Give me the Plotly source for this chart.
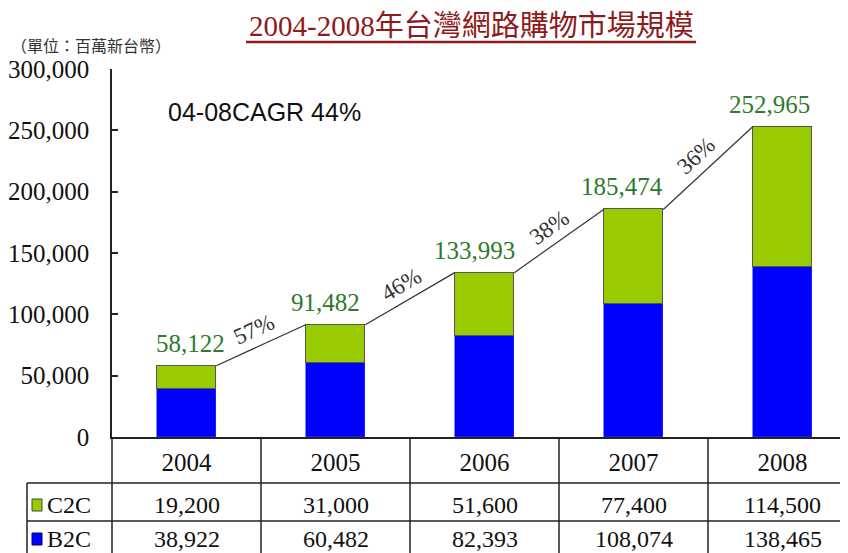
import math
import plotly.graph_objects as go

# ---------------- data ----------------
years = ["2004", "2005", "2006", "2007", "2008"]
c2c = [19200, 31000, 51600, 77400, 114500]
b2c = [38922, 60482, 82393, 108074, 138465]
growth_labels = ["57%", "46%", "38%", "36%"]
cagr_label = "04-08CAGR 44%"
title_text = "2004-2008年台灣網路購物市場規模"
unit_text = "（單位：百萬新台幣）"
y_ticks = [0, 50000, 100000, 150000, 200000, 250000, 300000]
totals = [b + c for b, c in zip(b2c, c2c)]

# ---------------- layout constants ----------------
OFF = 8  # page body margin of the html output
W, H = 848 - OFF, 553 - OFF
ML, MT = 112 - OFF, 69 - OFF
PH = 368
MB = H - MT - PH
MR = 0
PW = W - ML - MR
CAT_PX = 149.0
XR = [-0.5, -0.5 + PW / CAT_PX]
YR = [0, 300000]
BAR_W = 0.4

SERIF = "Liberation Serif, Times New Roman, serif"
SANS = "Liberation Sans, Arial, sans-serif"
CJK = "Liberation Serif, Noto Sans CJK TC, serif"
GREEN = "#99CC00"
BLUE = "#0000FF"
LABEL_GREEN = "#2E7A2E"
LINE = "#222222"
TITLE_RED = "#8E1B1B"


def px_x(px):
    """reference-image pixel x -> paper x"""
    return (px - OFF - ML) / PW


def px_y(py):
    """reference-image pixel y -> paper y"""
    return (MT + PH - (py - OFF)) / PH


x_idx = list(range(len(years)))

fig = go.Figure()
fig.add_trace(go.Bar(x=x_idx, y=b2c, name="B2C", width=BAR_W,
                     marker=dict(color=BLUE, line=dict(width=0.6, color="#3030ff"))))
fig.add_trace(go.Bar(x=x_idx, y=c2c, name="C2C", width=BAR_W,
                     marker=dict(color=GREEN, line=dict(width=1, color="#555555"))))

# growth connector lines (bar top-right corner to next bar top-left corner)
lx, ly = [], []
for i in range(len(totals) - 1):
    lx += [i + BAR_W / 2, i + 1 - BAR_W / 2, None]
    ly += [totals[i], totals[i + 1], None]
fig.add_trace(go.Scatter(x=lx, y=ly, mode="lines", line=dict(color="#333333", width=1.2),
                         hoverinfo="skip"))

annotations = []
shapes = []

# value labels above bars
LABEL_DX = [4, -10, -10, -12, -13]
for i, t in enumerate(totals):
    annotations.append(dict(x=i, y=t, xref="x", yref="y", text=f"{t:,}", showarrow=False,
                            xanchor="center", yanchor="bottom", xshift=LABEL_DX[i], yshift=7,
                            font=dict(family=SERIF, size=25, color=LABEL_GREEN)))

# growth labels along the connector lines
px_per_x = PW / (XR[1] - XR[0])
px_per_y = PH / (YR[1] - YR[0])
for i, g in enumerate(growth_labels):
    dx = (1 - BAR_W) * px_per_x
    dy = (totals[i + 1] - totals[i]) * px_per_y
    ang = math.degrees(math.atan2(dy, dx))
    L = math.hypot(dx, dy)
    nx, ny = -dy / L, dx / L  # upward normal (plotly coords: y up)
    d = 17
    annotations.append(dict(x=i + 0.5, y=(totals[i] + totals[i + 1]) / 2, xref="x", yref="y",
                            text=g, showarrow=False, textangle=-ang,
                            xshift=nx * d, yshift=ny * d,
                            font=dict(family=SERIF, size=23, color="#333333")))

# title, unit, CAGR
annotations.append(dict(x=px_x(471), y=px_y(26), xref="paper", yref="paper", text=title_text,
                        showarrow=False, xanchor="center", yanchor="middle",
                        font=dict(family=CJK, size=29, color=TITLE_RED)))
shapes.append(dict(type="line", xref="paper", yref="paper", x0=px_x(246), x1=px_x(696),
                   y0=px_y(42), y1=px_y(42), line=dict(color=TITLE_RED, width=2.5)))
annotations.append(dict(x=px_x(9), y=px_y(45), xref="paper", yref="paper", text=unit_text,
                        showarrow=False, xanchor="left", yanchor="middle",
                        font=dict(family="Noto Sans CJK TC", size=16, color="#333333")))
annotations.append(dict(x=px_x(264), y=px_y(112), xref="paper", yref="paper", text=cagr_label,
                        showarrow=False, xanchor="center", yanchor="middle",
                        font=dict(family=SANS, size=25, color="#111111")))

# ---------------- data table ----------------
ROW1_Y, ROW2_Y, BOTTOM_Y = 483, 521, 560
TABLE_LEFT = 27
for xv in [0.5, 1.5, 2.5, 3.5]:
    shapes.append(dict(type="line", xref="x", yref="paper", x0=xv, x1=xv,
                       y0=0, y1=px_y(BOTTOM_Y), line=dict(color=LINE, width=1.5)))
shapes.append(dict(type="line", xref="paper", yref="paper", x0=0, x1=0,
                   y0=0, y1=px_y(BOTTOM_Y), line=dict(color=LINE, width=1.5)))
shapes.append(dict(type="line", xref="paper", yref="paper", x0=px_x(TABLE_LEFT), x1=px_x(TABLE_LEFT),
                   y0=px_y(ROW1_Y), y1=px_y(BOTTOM_Y), line=dict(color=LINE, width=1.5)))
for yy in [ROW1_Y, ROW2_Y]:
    shapes.append(dict(type="line", xref="paper", yref="paper", x0=px_x(TABLE_LEFT), x1=1,
                       y0=px_y(yy), y1=px_y(yy), line=dict(color=LINE, width=1.5)))

rows = [("C2C", c2c, GREEN, "#444444", 505), ("B2C", b2c, BLUE, "#000080", 539)]
for name, vals, col, edge, yc in rows:
    shapes.append(dict(type="rect", xref="paper", yref="paper", x0=px_x(32), x1=px_x(42),
                       y0=px_y(yc - 6), y1=px_y(yc + 6), fillcolor=col,
                       line=dict(color=edge, width=1)))
    annotations.append(dict(x=px_x(45), y=px_y(yc), xref="paper", yref="paper", text=name,
                            showarrow=False, xanchor="left", yanchor="middle",
                            font=dict(family=SERIF, size=24, color="#111111")))
    for i, v in enumerate(vals):
        annotations.append(dict(x=i, y=px_y(yc), xref="x", yref="paper", text=f"{v:,}",
                                showarrow=False, xanchor="center", yanchor="middle",
                                font=dict(family=SERIF, size=24, color="#111111")))

fig.update_layout(
    width=W, height=H,
    margin=dict(l=ML, r=MR, t=MT, b=MB, pad=0),
    barmode="stack", bargap=0,
    showlegend=False,
    paper_bgcolor="white", plot_bgcolor="white",
    annotations=annotations, shapes=shapes,
    xaxis=dict(range=XR, tickvals=x_idx, ticktext=years, ticks="", showgrid=False,
               zeroline=False, showline=True, linecolor=LINE, linewidth=1.5,
               tickfont=dict(family=SERIF, size=25, color="#111111"), ticklabelstandoff=2,
               fixedrange=True),
    yaxis=dict(range=YR, tickvals=y_ticks, tickformat=",", ticks="inside", ticklen=6,
               tickcolor=LINE, tickwidth=1.5, showgrid=False, zeroline=False,
               showline=True, linecolor=LINE, linewidth=1.5, ticklabelstandoff=16,
               tickfont=dict(family=SERIF, size=25, color="#111111"), fixedrange=True),
)

fig.write_html("out.html")
